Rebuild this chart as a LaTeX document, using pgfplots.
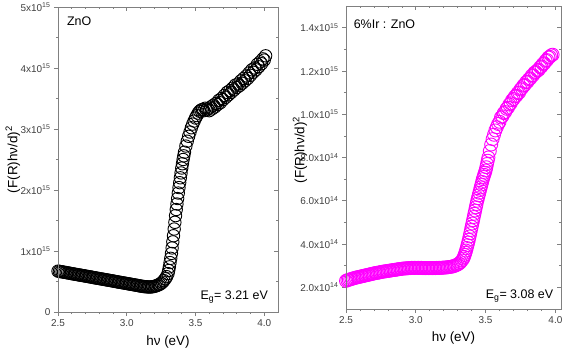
\documentclass[border=0pt]{standalone}
\usepackage{pgfplots}
\pgfplotsset{compat=1.18}
\usepackage{fontspec}
\setmainfont{Liberation Sans}
\definecolor{framegray}{gray}{0.5}
\definecolor{mag}{RGB}{255,0,255}
\definecolor{ticktext}{gray}{0.25}

\pgfplotstableread{
x y
2.50 0.670e15
2.51 0.666e15
2.52 0.662e15
2.53 0.658e15
2.54 0.654e15
2.55 0.650e15
2.56 0.646e15
2.57 0.642e15
2.58 0.638e15
2.59 0.633e15
2.60 0.629e15
2.61 0.625e15
2.62 0.621e15
2.63 0.617e15
2.64 0.613e15
2.65 0.609e15
2.66 0.605e15
2.67 0.601e15
2.68 0.597e15
2.69 0.593e15
2.70 0.589e15
2.71 0.585e15
2.72 0.581e15
2.73 0.577e15
2.74 0.573e15
2.75 0.569e15
2.76 0.564e15
2.77 0.560e15
2.78 0.556e15
2.79 0.552e15
2.80 0.548e15
2.81 0.544e15
2.82 0.540e15
2.83 0.536e15
2.84 0.532e15
2.85 0.528e15
2.86 0.524e15
2.87 0.520e15
2.88 0.516e15
2.89 0.512e15
2.90 0.508e15
2.91 0.504e15
2.92 0.499e15
2.93 0.495e15
2.94 0.491e15
2.95 0.487e15
2.96 0.483e15
2.97 0.479e15
2.98 0.475e15
2.99 0.471e15
3.00 0.467e15
3.01 0.463e15
3.02 0.459e15
3.03 0.455e15
3.04 0.451e15
3.05 0.447e15
3.06 0.443e15
3.07 0.439e15
3.08 0.435e15
3.09 0.430e15
3.10 0.426e15
3.11 0.422e15
3.12 0.418e15
3.13 0.416e15
3.14 0.414e15
3.15 0.412e15
3.16 0.410e15
3.17 0.410e15
3.18 0.412e15
3.19 0.415e15
3.20 0.420e15
3.21 0.426e15
3.22 0.434e15
3.23 0.444e15
3.24 0.455e15
3.25 0.470e15
3.26 0.490e15
3.27 0.515e15
3.28 0.545e15
3.29 0.580e15
3.30 0.630e15
3.305 0.680e15
3.31 0.740e15
3.315 0.810e15
3.32 0.880e15
3.325 0.960e15
3.33 1.050e15
3.335 1.150e15
3.34 1.250e15
3.345 1.360e15
3.35 1.470e15
3.355 1.580e15
3.36 1.680e15
3.365 1.770e15
3.37 1.860e15
3.375 1.950e15
3.38 2.040e15
3.385 2.120e15
3.39 2.200e15
3.395 2.280e15
3.40 2.360e15
3.405 2.430e15
3.41 2.500e15
3.415 2.560e15
3.42 2.620e15
3.43 2.720e15
3.44 2.800e15
3.45 2.880e15
3.46 2.950e15
3.47 3.020e15
3.48 3.080e15
3.49 3.130e15
3.50 3.180e15
3.51 3.220e15
3.52 3.260e15
3.53 3.290e15
3.54 3.310e15
3.55 3.320e15
3.56 3.300e15
3.57 3.340e15
3.58 3.310e15
3.59 3.33e15
3.60 3.30e15
3.61 3.36e15
3.62 3.33e15
3.63 3.39e15
3.64 3.36e15
3.65 3.42e15
3.66 3.40e15
3.67 3.47e15
3.68 3.43e15
3.69 3.50e15
3.70 3.48e15
3.71 3.55e15
3.72 3.52e15
3.73 3.60e15
3.74 3.56e15
3.75 3.63e15
3.76 3.60e15
3.77 3.67e15
3.78 3.64e15
3.79 3.72e15
3.80 3.68e15
3.81 3.74e15
3.82 3.71e15
3.83 3.79e15
3.84 3.75e15
3.85 3.83e15
3.86 3.79e15
3.87 3.87e15
3.88 3.83e15
3.89 3.92e15
3.90 3.88e15
3.91 3.97e15
3.92 3.93e15
3.93 4.00e15
3.94 3.97e15
3.95 4.06e15
3.96 4.02e15
3.97 4.10e15
3.98 4.07e15
3.99 4.15e15
4.00 4.13e15
4.01 4.20e15
}\zno

\pgfplotstableread{
x y
2.50 2.30e14
2.51 2.33e14
2.52 2.35e14
2.53 2.37e14
2.54 2.39e14
2.55 2.41e14
2.56 2.43e14
2.57 2.45e14
2.58 2.46e14
2.59 2.48e14
2.60 2.49e14
2.61 2.51e14
2.62 2.52e14
2.63 2.54e14
2.64 2.55e14
2.65 2.57e14
2.66 2.58e14
2.67 2.60e14
2.68 2.61e14
2.69 2.63e14
2.70 2.64e14
2.71 2.66e14
2.72 2.67e14
2.73 2.68e14
2.74 2.69e14
2.75 2.71e14
2.76 2.72e14
2.77 2.73e14
2.78 2.74e14
2.79 2.75e14
2.80 2.76e14
2.81 2.77e14
2.82 2.78e14
2.83 2.79e14
2.84 2.80e14
2.85 2.81e14
2.86 2.82e14
2.87 2.83e14
2.88 2.84e14
2.89 2.85e14
2.90 2.86e14
2.91 2.87e14
2.92 2.87e14
2.93 2.88e14
2.94 2.88e14
2.95 2.89e14
2.96 2.89e14
2.97 2.90e14
2.98 2.90e14
2.99 2.90e14
3.00 2.90e14
3.01 2.90e14
3.02 2.90e14
3.03 2.90e14
3.04 2.90e14
3.05 2.89e14
3.06 2.89e14
3.07 2.89e14
3.08 2.89e14
3.09 2.89e14
3.10 2.89e14
3.11 2.89e14
3.12 2.89e14
3.13 2.89e14
3.14 2.89e14
3.15 2.90e14
3.16 2.90e14
3.17 2.90e14
3.18 2.90e14
3.19 2.91e14
3.20 2.91e14
3.21 2.92e14
3.22 2.92e14
3.23 2.93e14
3.24 2.94e14
3.25 2.95e14
3.26 2.96e14
3.27 2.98e14
3.28 3.00e14
3.29 3.03e14
3.30 3.06e14
3.31 3.10e14
3.32 3.16e14
3.33 3.24e14
3.34 3.33e14
3.345 3.41e14
3.35 3.50e14
3.355 3.60e14
3.36 3.70e14
3.365 3.82e14
3.37 3.95e14
3.375 4.07e14
3.38 4.20e14
3.385 4.35e14
3.39 4.50e14
3.395 4.65e14
3.40 4.80e14
3.405 4.95e14
3.41 5.10e14
3.415 5.25e14
3.42 5.40e14
3.425 5.55e14
3.43 5.70e14
3.435 5.85e14
3.44 6.00e14
3.445 6.12e14
3.45 6.25e14
3.455 6.37e14
3.46 6.50e14
3.465 6.62e14
3.47 6.75e14
3.475 6.87e14
3.48 7.00e14
3.485 7.10e14
3.49 7.20e14
3.495 7.30e14
3.50 7.40e14
3.505 7.55e14
3.51 7.70e14
3.515 7.85e14
3.52 8.00e14
3.53 8.30e14
3.54 8.60e14
3.55 8.85e14
3.56 9.05e14
3.57 9.25e14
3.58 9.40e14
3.59 9.55e14
3.60 9.65e14
3.61 9.85e14
3.62 9.90e14
3.63 10.05e14
3.64 10.10e14
3.65 10.25e14
3.66 10.30e14
3.67 10.45e14
3.68 10.50e14
3.69 10.65e14
3.70 10.70e14
3.71 10.82e14
3.72 10.85e14
3.73 10.98e14
3.74 11.00e14
3.75 11.15e14
3.76 11.20e14
3.77 11.32e14
3.78 11.35e14
3.79 11.48e14
3.80 11.50e14
3.81 11.62e14
3.82 11.65e14
3.83 11.78e14
3.84 11.80e14
3.85 11.92e14
3.86 11.95e14
3.87 12.02e14
3.88 12.05e14
3.89 12.17e14
3.90 12.20e14
3.91 12.32e14
3.92 12.35e14
3.93 12.47e14
3.94 12.50e14
3.95 12.62e14
3.96 12.65e14
3.97 12.72e14
3.98 12.75e14
}\irzno

\pgfplotsset{
  base/.style={
    scale only axis, anchor=south west,
    axis line style={framegray, line width=0.8pt},
    xmin=2.5, xmax=4.1,
    xtick={2.5,3.0,3.5,4.0},
    minor x tick num=4, minor y tick num=1,
    major tick length=4bp, minor tick length=2.2bp,
    every tick/.style={framegray, line width=0.7pt},
    tick label style={font=\fontsize{10}{11}\selectfont, text=ticktext},
    scaled y ticks=false, scaled x ticks=false,
    label style={font=\fontsize{13.5}{15}\selectfont},
  },
  bottomleft/.style={xtick pos=left, ytick pos=left, tick align=outside},
  topright/.style={xtick pos=right, ytick pos=right, tick align=inside,
    xticklabels={}, yticklabels={}},
  leftpanel/.style={base, at={(58bp,44bp)}, width=220bp, height=305bp,
    ymin=0, ymax=5e15, ytick={0,1e15,2e15,3e15,4e15,5e15}},
  rightpanel/.style={base, at={(346bp,47bp)}, width=215bp, height=303bp,
    xmax=4.04,
    ymin=1e14, ymax=1.5e15, ytick={2e14,4e14,6e14,8e14,10e14,12e14,14e14}},
}

\begin{document}
\begin{tikzpicture}
\useasboundingbox (0,0) rectangle (566bp,356bp);
% left panel
\begin{axis}[leftpanel, bottomleft,
  xticklabels={2.5,3.0,3.5,4.0},
  yticklabels={0,1x10\textsuperscript{15},2x10\textsuperscript{15},3x10\textsuperscript{15},4x10\textsuperscript{15},5x10\textsuperscript{15}},
  xlabel={hν (eV)}, ylabel={(F(R)hν/d)\textsuperscript{2}},
  xlabel style={at={(axis description cs:0.5,-0.065)}, anchor=north},
  ylabel style={at={(axis description cs:-0.205,0.5)}, anchor=center},
]
\addplot[only marks, mark=o, mark size=6.2bp, black, mark options={line width=0.9pt}] table {\zno};
\node[anchor=base west, font=\fontsize{12.5}{14}\selectfont] at (axis description cs:0.025,0.938) {ZnO};
\node[anchor=base east, font=\fontsize{12.5}{14}\selectfont] at (axis description cs:0.97,0.04) {E\textsubscript{g}= 3.21 eV};
\end{axis}
\begin{axis}[leftpanel, topright]
\end{axis}
% right panel
\begin{axis}[rightpanel, bottomleft,
  xticklabels={2.5,3.0,3.5,4.0},
  yticklabels={2.0x10\textsuperscript{14},4.0x10\textsuperscript{14},6.0x10\textsuperscript{14},8.0x10\textsuperscript{14},1.0x10\textsuperscript{15},1.2x10\textsuperscript{15},1.4x10\textsuperscript{15}},
  xlabel={hν (eV)}, ylabel={(F(R)hν/d)\textsuperscript{2}},
  xlabel style={at={(axis description cs:0.5,-0.065)}, anchor=north},
  ylabel style={at={(axis description cs:-0.214,0.525)}, anchor=center},
]
\addplot[only marks, mark=o, mark size=6.5bp, mag, mark options={line width=0.9pt}] table {\irzno};
\node[anchor=base west, font=\fontsize{12.5}{14}\selectfont] at (axis description cs:0.02,0.927) {6\%Ir : ZnO};
\node[anchor=base east, font=\fontsize{12.5}{14}\selectfont] at (axis description cs:0.98,0.033) {E\textsubscript{g}= 3.08 eV};
\end{axis}
\begin{axis}[rightpanel, topright]
\end{axis}
\end{tikzpicture}
\end{document}
